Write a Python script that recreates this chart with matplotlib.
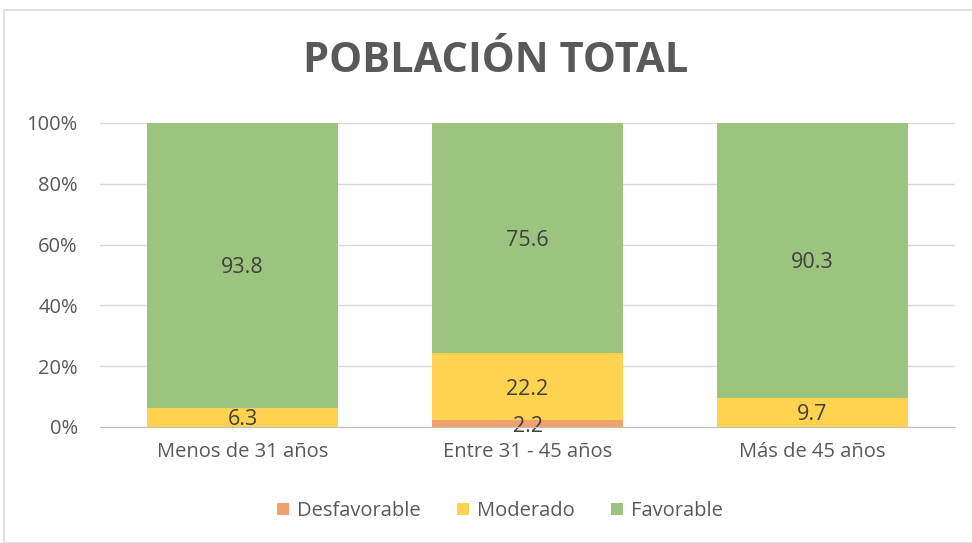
import matplotlib
matplotlib.use("Agg")
from matplotlib import pyplot as plt
from matplotlib.patches import Rectangle
import numpy as np

plt.rcParams['font.family'] = ['Open Sans', 'DejaVu Sans']

categories = ["Menos de 31 años", "Entre 31 - 45 años", "Más de 45 años"]
series_names = ["Desfavorable", "Moderado", "Favorable"]
desfavorable = [0.0, 2.2, 0.0]
moderado = [6.3, 22.2, 9.7]
favorable = [93.8, 75.6, 90.3]
colors = ["#F2A16E", "#FFD34F", "#9CC47E"]

W, H = 972, 543
fig = plt.figure(figsize=(W / 100, H / 100), dpi=100)
ax = fig.add_axes([100 / W, 1 - 427 / H, 855 / W, (427 - 123) / H])

x = np.arange(len(categories))
bottom = np.zeros(len(categories))
for name, vals, col in zip(series_names, [desfavorable, moderado, favorable], colors):
    vals = np.array(vals)
    ax.bar(x, vals, 0.667, bottom=bottom, color=col, label=name, zorder=2)
    for xi, b, v in zip(x, bottom, vals):
        if v > 0:
            ax.text(xi, b + v / 2, f"{v:.1f}", ha='center', va='center_baseline',
                    fontsize=15.5, color='#404040', zorder=3)
    bottom += vals

ax.set_xlim(-0.5, 2.5)
ax.set_ylim(0, 100)
ax.set_yticks(np.arange(0, 101, 20))
ax.set_yticklabels([f"{t}%" for t in range(0, 101, 20)])
ax.set_xticks(x)
ax.set_xticklabels(categories)
ax.tick_params(axis='both', length=0, labelsize=14.5, labelcolor='#595959')
ax.tick_params(axis='x', pad=11)
ax.tick_params(axis='y', pad=16)
ax.grid(axis='y', color='#D9D9D9', linewidth=1, zorder=0)
for s in ['top', 'right', 'left']:
    ax.spines[s].set_visible(False)
ax.spines['bottom'].set_color('#BFBFBF')
ax.spines['bottom'].set_zorder(4)

fig.text(496 / W, 1 - 62 / H, "POBLACIÓN TOTAL", ha='center', va='center',
         fontsize=30, fontweight='bold', color='#595959')

fig.legend(loc='center', bbox_to_anchor=(500 / W, 1 - 511 / H), ncol=3,
           frameon=False, fontsize=14.5, labelcolor='#595959',
           handlelength=0.6, handleheight=0.6, columnspacing=1.8, handletextpad=0.4)

fig.patches.append(Rectangle((4 / W, 0), 1.5, 1 - 10 / H, transform=fig.transFigure,
                             fill=False, edgecolor='#D9D9D9', linewidth=1.2))

fig.savefig("out.png", dpi=100)
